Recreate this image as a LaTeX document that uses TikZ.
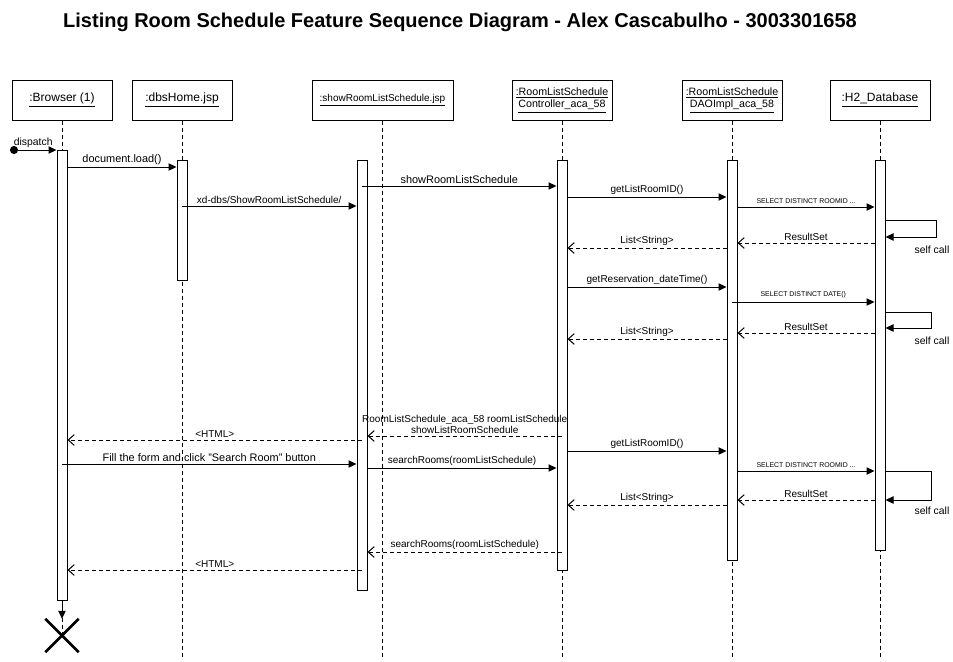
\documentclass[tikz,border=0pt]{standalone}
\usepackage{fontspec}
\setmainfont{Liberation Sans}
\usetikzlibrary{arrows.meta,shapes.misc}

\tikzset{every picture/.style={line width=0.75pt}}
\tikzset{
  hdr/.style={draw, fill=white, minimum width=75pt, minimum height=30pt, inner sep=1pt, align=center, font=\fontsize{9}{11}\selectfont},
  act/.style={draw, fill=white, minimum width=7.5pt, inner sep=0pt},
  life/.style={dash pattern=on 3pt off 2.25pt},
  msg/.style={-{Triangle[length=6pt,width=5.5pt]}},
  ret/.style={dash pattern=on 3pt off 2.25pt, -{Straight Barb[length=4.5pt,width=8pt]}},
  lbl/.style={font=\fontsize{7.5}{8.5}\selectfont, inner sep=1.5pt, anchor=south},
  biglbl/.style={lbl, font=\fontsize{8.2}{9.5}\selectfont},
  sql/.style={font=\fontsize{5.2}{6}\selectfont, inner sep=2.5pt, anchor=south},
}

\begin{document}
\begin{tikzpicture}[x=0.75pt,y=0.75pt,yscale=-1,xscale=1]
\useasboundingbox (0,0) rectangle (953,661);

% Title
\node[font=\fontsize{15}{17}\selectfont\bfseries] (title) at (460,22) {Listing Room Schedule Feature Sequence Diagram - Alex Cascabulho - 3003301658};

%Shape: Headers
\node[hdr] (hBrowser) at (62,100) {\underline{:Browser (1)}};
\node[hdr] (hHome) at (182,100) {\underline{:dbsHome.jsp}};
\node[hdr, minimum width=105.75pt, font=\fontsize{7.5}{8.5}\selectfont] (hShow) at (382.5,100) {\underline{:showRoomListSchedule.jsp}};
\node[hdr, font=\fontsize{8}{9.5}\selectfont] (hCtrl) at (562,100) {\underline{:RoomListSchedule}\\\underline{Controller\_aca\_58}};
\node[hdr, font=\fontsize{8}{9.5}\selectfont] (hDao) at (732,100) {\underline{:RoomListSchedule}\\\underline{DAOImpl\_aca\_58}};
\node[hdr] (hDb) at (880,100) {\underline{:H2\_Database}};

%Shape: End of browser
\node[draw, cross out, line width=2pt, minimum size=23pt, inner sep=0pt] (xEnd) at (62,635.5) {};

%Lifelines
\draw[life] (hBrowser.south) -- (xEnd.center);
\draw[life] (hHome.south) -- (hHome.south |- 0,658);
\draw[life] (hShow.south) -- (hShow.south |- 0,658);
\draw[life] (hCtrl.south) -- (hCtrl.south |- 0,658);
\draw[life] (hDao.south) -- (hDao.south |- 0,658);
\draw[life] (hDb.south) -- (hDb.south |- 0,658);

%Shape: Activation bars
\node[act, minimum height=337.5pt] (aBrowser) at (62,375) {};
\node[act, minimum height=90pt] (aHome) at (182,220) {};
\node[act, minimum height=322.5pt] (aShow) at (362,375) {};
\node[act, minimum height=307.5pt] (aCtrl) at (562,365) {};
\node[act, minimum height=300pt] (aDao) at (732,360) {};
\node[act, minimum height=292.5pt] (aDb) at (880,355) {};

\coordinate (dStart) at (10,150);
\draw[{Circle[length=6pt]}-{Triangle[length=6pt,width=5.5pt]}] (dStart) -- (aBrowser.west |- 0,150) node[lbl, midway, font=\fontsize{7.8}{9}\selectfont] {dispatch};
\draw[->, >={Triangle[length=6pt,width=5.5pt]}] (aBrowser.south) -- (xEnd.north);

%Messages: first request
\draw[msg] (aBrowser.east |- 0,167) -- (aHome.west |- 0,167) node[biglbl, midway] {document.load()};
\draw[msg] (aHome.center |- 0,206) -- (aShow.west |- 0,206) node[lbl, midway] {xd-dbs/ShowRoomListSchedule/};
\draw[msg] (aShow.center |- 0,186) -- (aCtrl.west |- 0,186) node[biglbl, midway] {showRoomListSchedule};
\draw[msg] (aCtrl.east |- 0,197) -- (aDao.west |- 0,197) node[lbl, midway] {getListRoomID()};
\draw[msg] (aDao.east |- 0,207) -- (aDb.west |- 0,207) node[sql, midway] {SELECT DISTINCT ROOMID ...};
\draw[msg] (aDb.east |- 0,220) -- (936,220) -- (936,237) -- (aDb.east |- 0,237);
\node[lbl, anchor=north, font=\fontsize{7.8}{9}\selectfont] (self1) at (932,243) {self call};
\draw[ret] (aDb.west |- 0,243) -- (aDao.east |- 0,243) node[lbl, midway] {ResultSet};
\draw[ret] (aDao.west |- 0,248) -- (aCtrl.east |- 0,248) node[lbl, midway] {List<String>};

\draw[msg] (aCtrl.east |- 0,287) -- (aDao.west |- 0,287) node[lbl, midway] {getReservation\_dateTime()};
\draw[msg] (aDao.center |- 0,302) -- (aDb.west |- 0,302) node[sql, midway] {SELECT DISTINCT DATE()};
\draw[msg] (aDb.east |- 0,312) -- (931,312) -- (931,328) -- (aDb.east |- 0,328);
\node[lbl, anchor=north, font=\fontsize{7.8}{9}\selectfont] (self2) at (932,334) {self call};
\draw[ret] (aDb.west |- 0,333) -- (aDao.east |- 0,333) node[lbl, midway] {ResultSet};
\draw[ret] (aDao.west |- 0,339) -- (aCtrl.east |- 0,339) node[lbl, midway] {List<String>};

\draw[ret] (aCtrl.center |- 0,436) -- (aShow.east |- 0,436) node[lbl, midway, align=center] {RoomListSchedule\_aca\_58 roomListSchedule\\showListRoomSchedule};
\draw[ret] (aShow.center |- 0,440) -- (aBrowser.east |- 0,440) node[lbl, midway] {<HTML>};

%Messages: search
\draw[msg] (aBrowser.center |- 0,464) -- (aShow.west |- 0,464) node[biglbl, midway] {Fill the form and click "Search Room" button};
\draw[msg] (aShow.east |- 0,468) -- (aCtrl.west |- 0,468) node[lbl, midway] {searchRooms(roomListSchedule)};
\draw[msg] (aCtrl.east |- 0,451) -- (aDao.west |- 0,451) node[lbl, midway] {getListRoomID()};
\draw[msg] (aDao.east |- 0,471) -- (aDb.west |- 0,471) node[sql, midway] {SELECT DISTINCT ROOMID ...};
\draw[msg] (aDb.east |- 0,471) -- (931,471) -- (931,500) -- (aDb.east |- 0,500);
\node[lbl, anchor=north, font=\fontsize{7.8}{9}\selectfont] (self3) at (932,504) {self call};
\draw[ret] (aDb.west |- 0,500) -- (aDao.east |- 0,500) node[lbl, midway] {ResultSet};
\draw[ret] (aDao.west |- 0,505) -- (aCtrl.east |- 0,505) node[lbl, midway] {List<String>};
\draw[ret] (aCtrl.center |- 0,552) -- (aShow.east |- 0,552) node[lbl, midway] {searchRooms(roomListSchedule)};
\draw[ret] (aShow.center |- 0,570) -- (aBrowser.east |- 0,570) node[lbl, midway] {<HTML>};

\end{tikzpicture}
\end{document}
